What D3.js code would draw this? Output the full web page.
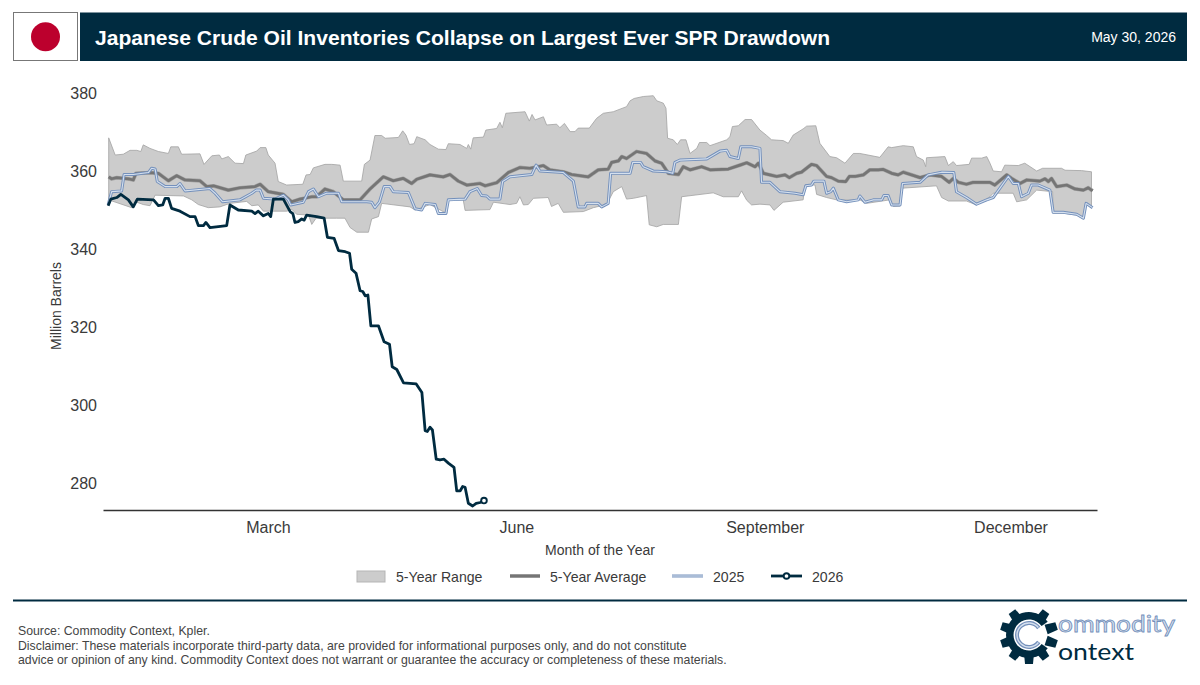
<!DOCTYPE html>
<html><head><meta charset="utf-8">
<script src="https://cdn.jsdelivr.net/npm/d3@7"></script>
<style>html,body{margin:0;padding:0;background:#fff}svg{display:block}text{font-family:"Liberation Sans",Arial,sans-serif}</style>
</head><body><svg id="c" width="1200" height="685"></svg>
<script>
const titleText="Japanese Crude Oil Inventories Collapse on Largest Ever SPR Drawdown";
const dateText="May 30, 2026";
const yTicks=[280,300,320,340,360,380];
const xTickDays=[60,152,244,335];
const xTickLabels=["March","June","September","December"];
const legendLabels=["5-Year Range","5-Year Average","2025","2026"];

const rangeHighDays=[1,3.4,6.4,8.9,11.4,12.9,13.8,16.3,19.4,23.1,24,26.8,28,34.8,36.3,39.2,42,42.9,45.3,47.8,50.9,51.8,55.8,57.1,59.2,60.1,62.6,63.8,66.9,72.9,74.1,75.6,76.8,81.1,83.6,86.7,87.9,94.7,95.7,97.8,99.6,102.1,103.4,108.3,109.9,111.1,112.4,114.1,115.1,118.2,
120,123.1,125.9,126.8,131.1,133.6,134.2,135.1,136,139.8,140.7,144.7,145.9,146.8,148.1,155.2,156.8,157.8,158.9,162,163.2,166.9,168.1,169.8,171.9,173.7,174.9,179,181.7,184.2,187.9,192.8,194.1,195.6,199,202.7,204,206.4,207.4,208,210.1,211.6,212.8,214.8,216.3,218.8,219.8,222.5,223.7,229.9,231.1,232,234.2,236.7,239.1,
242.2,244.7,246.5,250.8,252.7,254.5,258.2,259.5,262.9,264.4,268.1,270.6,273.7,276.8,279.2,286.6,289.7,291,295.3,299,300.2,302.7,303.6,303.9,310.7,312,313.8,315,319.7,320.6,324.3,326.2,327.4,328.6,331.7,332.9,337.9,340.3,344.7,346.9,353.9,355.2,361.3,365];
const rangeHighValues=[368.5,364.1,364.3,365.3,365.3,365,366.7,365.8,365,364.5,366.2,366.2,364.3,364.4,361.7,363.9,364.1,363.1,363.7,362,361.9,364.1,365.1,366,366,364.1,362,357.3,356.4,356.6,359,359.1,360.8,361.7,361.7,361.5,357.4,357.4,361.7,362.8,369.1,369.1,368.4,368.6,370.3,369.2,366.8,367,368.8,368,
366.8,365.6,365.5,367,366.8,365.8,366.8,365.6,368.5,368.7,370.5,370.9,372.5,371.1,374.8,375.2,372.8,374.5,373.1,373.9,371.8,372,371.1,372.2,370.1,370.1,371,371,373.5,374.8,375.2,376.5,378,378.6,379.1,379.3,378,377.4,376.1,368.4,368,366.8,368,368,364.5,365.8,367.3,367.3,366.5,368,368.8,371.4,371.6,373.2,373.2,
370.5,369.1,368,367.8,367.1,369.2,370.8,371.5,371.6,367.1,363.7,363.4,362,364.5,364.5,363.5,366.2,366,366.5,366.2,363.7,362.8,361.1,363.4,363.7,361.4,362.4,361.4,361.7,363.3,363.3,363.7,362,360,359.8,361.5,361.4,362,360,360.7,360.7,360.2,360.1,359.8];

const rangeLowDays=[1,9.5,11.4,13.8,16.3,18.2,28.7,31.8,34.2,37.9,42.2,45.9,52.1,54,56.4,58.3,67,68.8,70.6,75,76.2,77.8,85.4,88.5,90.4,92.9,97.2,98.4,100.9,102.1,112.6,114.5,
120,126.2,126.8,132.3,133,142.2,143.5,149.6,152.1,153.3,154.6,156.4,158.3,163.8,165,167.5,169.4,176.8,180.5,185.4,187.9,191,192.8,195.3,200.2,201.2,204,206.4,212,213.2,224.9,228.6,234.2,235.4,237.3,239.1,
242.2,245.9,247.4,250.8,258.2,258.9,262.6,263.2,266.9,270.6,279.2,281.7,290.3,291.6,294.1,295,307.6,309.5,312,318.7,322.4,327.4,328.6,336,337.3,341,344.7,350.6,350.8,354.5,359.5,362,363,365];
const rangeLowValues=[352.6,350.6,352,351.4,351.1,353.8,353.6,352.6,351.4,350.6,350.8,351.7,352.2,351.1,351.3,349.7,349.7,350.2,348.9,348.7,346.3,347.9,347.9,347.9,345.5,344.3,344.3,347.7,348.3,351.7,350.8,350,
351.4,349.1,352.6,352.6,349.9,350.1,352,351.4,351.7,353.4,351.3,351.4,353,353.2,350.9,351.7,349.4,349.6,350.6,351.4,354.7,356,352.8,353,353.7,346.2,345.7,346.3,346.3,353.4,354.4,353.4,353.4,354.9,352.5,351.3,
351.5,351.3,349.9,352,352.6,356.4,356.4,354,353.2,352.6,352.6,351.7,352.6,350.9,351,355.6,356.2,353.2,352.3,352.3,351.3,353.4,354.3,354.3,352.1,352.6,355.1,354.7,349.2,349.2,348.7,347.7,351.7,350.6];

const avgDays=[1,2.1,4,8.3,10.1,11.1,16.3,19.4,23.1,26.2,29.3,34.8,37.3,39.8,45.3,49.6,55.2,57.1,60.1,65.7,68.8,71.9,76.2,78,81.1,84.2,87.9,94.1,97.8,102.7,106.4,110.1,113.2,115.1,
120,124.9,127.4,130.5,133.6,138.5,140.4,144.7,149,153.3,157,162,164.4,169.4,172.5,178.6,182.3,186,187.3,189.8,191,192.8,196.5,200.2,203.3,205.8,208.3,212,213.8,216.3,220.6,223.7,230.5,234.8,237.3,240.4,241.6,
243.5,245.9,248.4,251.5,253.1,255.8,257.6,261.3,263.2,266.9,268.7,271.2,274,275.3,277.4,280.5,282.9,286,287.9,291,293.4,295.3,301.5,305.2,309.5,312.3,313.8,315.7,318.7,321.2,327.4,329.2,333.6,335.4,338.5,341,345.9,347.8,349,350.2,352.1,355.8,358.9,362,363.8,365.4];
const avgValues=[358.5,358,358.3,358,357.7,359.4,359.6,359.4,357.5,358.8,357.7,357.5,356,356.2,355.1,355.7,356,356.6,354.7,354,352.1,352.8,353.4,353.4,355.4,354.7,352.6,352.6,355.4,358.5,357.5,358.1,356.8,357.9,
359,358.5,359.1,357.4,356.4,356.8,356.2,357,359.6,360.9,360.7,361.4,360.3,359.8,359.1,358.5,360.3,360.5,362.2,362.6,363.7,363.2,365,364.5,362.6,362,359.4,359.1,361.1,360.3,361.1,360.3,360.5,361.5,362.1,361.1,362,
359.4,359,358.6,359,358.3,359.4,359.7,361.7,361.4,358.6,358.3,357.4,357.3,358.6,358.6,359,360.3,360.3,360.4,359.4,359,359.7,358.3,359,358.6,357.1,358.1,357.1,356.6,357.1,357.1,356.4,359,358.1,356.8,357.7,357.4,358,357.3,358.1,356,356.4,355.4,355.1,355.7,354.9];

const y2025Days=[0.8,2.1,5.8,6.7,10.1,15.7,16.9,18.2,19,21.9,26.2,27.4,29.3,38.5,40.4,43.2,49.6,54,55.6,57.1,58.3,62.6,65.7,67.5,68.4,73.1,75,76.8,78.7,81.7,86.1,87.3,96.6,98.4,99.6,101.3,103,105.2,106.4,112,114.5,116.9,118.2,121.9,
123.1,125.9,126.8,133,134.8,137.5,139.1,141,142.2,145.9,146.9,149.6,157.7,159.3,160.7,169.4,173.1,174.9,177.4,178,182.3,183.6,186,186.9,194.1,195.1,198,199,202.7,207.7,209.9,210.7,212.6,222.5,227.4,229.9,231.1,234.2,235.1,239.1,242.2,242.8,
245.9,249.6,255.2,258.2,259.2,261.3,262.2,265.9,266.9,268.4,269.4,271.2,274.3,278.6,279.2,281.1,284.2,287.3,288.1,289.7,291,294.1,295,301.5,304.5,309.5,314,315,318.7,322.4,326.2,328.6,331.1,334.2,336,337.9,339.1,341.6,342.8,345.3,349.6,350.8,354.5,359.5,362,363,365.4];
const y2025Values=[351.3,354.7,354.9,359.1,359.1,359.6,360.7,360.5,357.3,356,356,356.8,354.9,355.5,354.3,352.1,352.6,354.3,355.1,355.1,353,352.8,353.8,352.6,351.3,352,354.7,355.4,353.4,354.3,354.3,352.1,352.1,352,350.6,352.1,356,356,354.7,354.5,350.3,350,351.7,351.4,
349.1,349.1,352.6,352.8,354.7,355.5,353.7,353.6,352.8,352.8,357.3,358.5,359.1,361.5,360,359.6,357.4,350.8,350.8,351.7,351.7,350.8,351.7,359.4,359.4,362.2,362.2,361.1,360,359.8,359.4,362.2,362.8,363.1,365.1,365.3,363.7,363.2,366.2,366.2,365.8,357.1,
357.1,354.7,354.3,353.9,356.2,356.4,357.4,357.4,354.3,354.7,355.6,352.6,352.1,352.6,353.6,352,352.6,352.6,353.7,353.7,351.3,351.3,356.8,357.1,359,359.7,359.6,354.7,353.2,351.5,352.6,353.2,355.6,358.6,356.8,356.8,353.4,354.3,356.4,356.4,355.1,349.4,349.4,348.9,347.9,351.7,350.6];

const y2026Days=[0.8,1.8,4,5.5,8.3,10.1,11.6,17.6,19.4,21,21.9,23.1,24.3,27.4,31.1,33,34.2,36.1,37,38.5,44.7,45.9,49,54,55.2,56.4,58.3,60.1,61,62,65.7,68.2,69.2,70,71.2,72.5,73.4,74.3,78,80.8,82,84.5,86.1,88.6,90.2,91,92.6,94.1,95.1,96,97,98.1,100.9,103,105,106,107.7,110.2,114.9,117,118.2,119,120,120.9,122.3,123.7,125.2,126.8,128.9,129.9,131.2,132.1,133,134.2,135.8,137.1,138.6,140];
const y2026Values=[351.1,352.8,353.2,354,352.6,350.8,352.8,352.6,351.1,351.3,353,353,350.4,349.7,348.3,348.3,346,346,346.8,345.5,346,351.3,350,349.7,349.1,349.7,348.5,349.1,348.3,352.8,352.8,349.6,349.1,346.8,347,347.7,347.4,348.7,348.3,347.9,343,342.7,339.6,339.3,338.9,334.8,333.8,329.3,329.1,328,328.2,320.3,320.3,316.2,315.6,309.8,309.1,305.7,305.4,303.2,293.4,293.2,294.3,293.6,286.1,285.9,286.1,285.1,284,278,278,279.1,278.9,274.8,274.1,274.8,275,275.5];

const INK="#002b40", BLUE="#7490bb", PALE="#d5e0ee", TXT="#3a3a3a";
const svg=d3.select("#c");
const x=d3.scaleLinear().domain([-1.11,367.04]).range([103,1097]);
const y=d3.scaleLinear().domain([280,380]).range([483,93]);
const line=d3.line().x(d=>x(d[0])).y(d=>y(d[1]));
const zip=(a,b)=>a.map((d,i)=>[d,b[i]]);

// header
svg.append("rect").attr("x",13.5).attr("y",12.5).attr("width",64).attr("height",48).attr("fill","#fff").attr("stroke","#777").attr("stroke-width",1);
svg.append("circle").attr("cx",45.5).attr("cy",36.8).attr("r",14.5).attr("fill","#bc002d");
svg.append("rect").attr("x",80).attr("y",12.5).attr("width",1107).attr("height",48.5).attr("fill",INK);
svg.append("text").attr("x",95).attr("y",44.5).attr("fill","#fff").attr("font-size",21.07).attr("font-weight",700).text(titleText);
svg.append("text").attr("x",1176).attr("y",42).attr("text-anchor","end").attr("fill","#fff").attr("font-size",14).text(dateText);

// band and lines
const bandPts=zip(rangeHighDays,rangeHighValues).concat(zip(rangeLowDays,rangeLowValues).reverse());
svg.append("path").attr("d",line(bandPts)+"Z").attr("fill","#cccccc").attr("stroke","#a2a2a2").attr("stroke-width",0.8);
const avgPts=zip(avgDays,avgValues);
svg.append("path").attr("d",line(avgPts)).attr("fill","none").attr("stroke","#a4a4a4").attr("stroke-width",3.8).attr("stroke-linejoin","round");
svg.append("path").attr("d",line(avgPts)).attr("fill","none").attr("stroke","#757575").attr("stroke-width",2.7).attr("stroke-linejoin","round");
const p25=zip(y2025Days,y2025Values);
svg.append("path").attr("d",line(p25)).attr("fill","none").attr("stroke",BLUE).attr("stroke-width",3).attr("stroke-linejoin","round");
svg.append("path").attr("d",line(p25)).attr("fill","none").attr("stroke",PALE).attr("stroke-width",1.1).attr("stroke-linejoin","round");
const p26=zip(y2026Days,y2026Values);
svg.append("path").attr("d",line(p26)).attr("fill","none").attr("stroke",INK).attr("stroke-width",2.8).attr("stroke-linejoin","round");
const last=p26[p26.length-1];
svg.append("circle").attr("cx",x(last[0])).attr("cy",y(last[1])).attr("r",2.8).attr("fill","#fff").attr("stroke",INK).attr("stroke-width",1.9);

// axes
const gx=svg.append("g").attr("transform","translate(0,510)").call(d3.axisBottom(x).tickValues(xTickDays).tickFormat((d,i)=>xTickLabels[i]).tickSize(0).tickPadding(12));
gx.select(".domain").attr("stroke","#333").attr("stroke-width",1.3);
gx.selectAll("text").attr("font-size",16).attr("fill",TXT).attr("font-family","Liberation Sans");
const gy=svg.append("g").attr("transform","translate(103,0)").call(d3.axisLeft(y).tickValues(yTicks).tickSize(0).tickPadding(6));
gy.select(".domain").remove();
gy.selectAll("text").attr("font-size",16).attr("fill",TXT).attr("font-family","Liberation Sans");
svg.append("text").attr("x",600).attr("y",555).attr("text-anchor","middle").attr("font-size",14).attr("fill",TXT).text("Month of the Year");
svg.append("text").attr("transform","translate(61,306) rotate(-90)").attr("text-anchor","middle").attr("font-size",14).attr("fill",TXT).text("Million Barrels");

// legend
const ly=577;
svg.append("rect").attr("x",357).attr("y",571).attr("width",28).attr("height",11).attr("fill","#cccccc").attr("stroke","#b5b5b5");
svg.append("line").attr("x1",510).attr("x2",540).attr("y1",ly-1).attr("y2",ly-1).attr("stroke","#a4a4a4").attr("stroke-width",3.8);
svg.append("line").attr("x1",510).attr("x2",540).attr("y1",ly-1).attr("y2",ly-1).attr("stroke","#757575").attr("stroke-width",2.7);
svg.append("line").attr("x1",672).attr("x2",703).attr("y1",ly-1).attr("y2",ly-1).attr("stroke",BLUE).attr("stroke-width",3);
svg.append("line").attr("x1",672).attr("x2",703).attr("y1",ly-1).attr("y2",ly-1).attr("stroke",PALE).attr("stroke-width",1.1);
svg.append("line").attr("x1",771).attr("x2",802).attr("y1",ly-1).attr("y2",ly-1).attr("stroke",INK).attr("stroke-width",2.8);
svg.append("circle").attr("cx",786.5).attr("cy",ly-1).attr("r",2.8).attr("fill","#fff").attr("stroke",INK).attr("stroke-width",1.9);
const legendX=[396,550,713,812];
legendLabels.forEach((t,i)=>svg.append("text").attr("x",legendX[i]).attr("y",ly+5).attr("font-size",14.1).attr("fill",TXT).text(t));

// footer
svg.append("rect").attr("x",13).attr("y",599.5).attr("width",1174).attr("height",2).attr("fill",INK);
const foot=["Source: Commodity Context, Kpler.","Disclaimer: These materials incorporate third-party data, are provided for informational purposes only, and do not constitute","advice or opinion of any kind. Commodity Context does not warrant or guarantee the accuracy or completeness of these materials."];
[635,650,664].forEach((yy,i)=>svg.append("text").attr("x",18).attr("y",yy).attr("font-size",12.29).attr("fill","#444").text(foot[i]));

// logo: gear teeth, open dark ring, pale-blue C
const lg=svg.append("g").attr("transform","translate(1029,635)");
const toothAngles=[36,72,108,144,180,216,252,288,324];
toothAngles.forEach(a=>lg.append("path").attr("d","M-5,-18L-4,-29L4,-29L5,-18Z").attr("fill",INK).attr("transform",`rotate(${a})`));
const arc=d3.arc();
const open=0.62;
lg.append("path").attr("d",arc({innerRadius:15.5,outerRadius:23,startAngle:Math.PI/2+open,endAngle:2.5*Math.PI-open})).attr("fill",INK);
lg.append("path").attr("d",arc({innerRadius:10,outerRadius:14,startAngle:Math.PI/2+open,endAngle:2.5*Math.PI-open})).attr("fill",BLUE);
lg.append("path").attr("d",arc({innerRadius:11.3,outerRadius:12.7,startAngle:Math.PI/2+open+0.05,endAngle:2.5*Math.PI-open-0.05})).attr("fill",PALE);
svg.append("text").attr("x",1058).attr("y",632).attr("font-size",23).attr("fill",PALE).attr("stroke",BLUE).attr("stroke-width",0.8).style("font-family","Lato").attr("textLength",117).attr("lengthAdjust","spacingAndGlyphs").text("ommodity");
svg.append("text").attr("x",1058).attr("y",660).attr("font-size",23).attr("fill",INK).style("font-family","Lato").attr("textLength",76).attr("lengthAdjust","spacingAndGlyphs").text("ontext");
</script></body></html>
